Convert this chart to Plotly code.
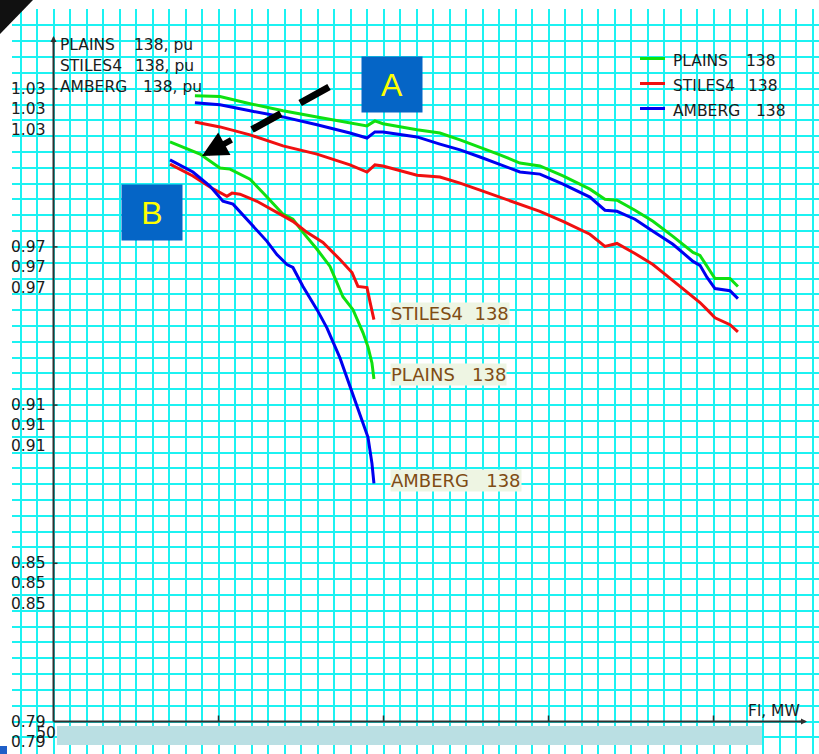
import plotly.graph_objects as go

# ---------------- data ----------------
series_names = ["PLAINS", "STILES4", "AMBERG"]
series_kv = ["138", "138", "138"]
series_colors = ["#10E010", "#F01010", "#0000F0"]

# Case A (upper set of PV curves): transfer Fl in MW, voltages in pu
upper_fl = [135.7, 150.9, 169.1, 189.1, 209.7, 229.7, 240.0, 244.8, 249.7, 270.3,
            284.2, 296.4, 308.5, 320.6, 332.7, 344.8, 358.8, 375.1, 384.2, 391.5,
            402.4, 413.3, 425.4, 437.6, 441.8, 446.1, 450.9, 460.0, 464.8]
upper_plains = [1.0273, 1.0270, 1.0243, 1.0216, 1.0193, 1.0171, 1.0159, 1.0178, 1.0167, 1.0144,
                1.0132, 1.0106, 1.0079, 1.0049, 1.0018, 1.0007, 0.9969, 0.9919, 0.9881, 0.9877,
                0.9839, 0.9797, 0.9740, 0.9679, 0.9668, 0.9626, 0.9580, 0.9580, 0.9550]
upper_stiles = [1.0174, 1.0155, 1.0125, 1.0083, 1.0052, 1.0011, 0.9984, 1.0011, 1.0007, 0.9972,
                0.9965, 0.9942, 0.9915, 0.9889, 0.9862, 0.9835, 0.9797, 0.9748, 0.9702, 0.9713,
                0.9675, 0.9633, 0.9572, 0.9511, 0.9489, 0.9462, 0.9431, 0.9405, 0.9378]
upper_amberg = [1.0247, 1.0239, 1.0216, 1.0193, 1.0163, 1.0132, 1.0113, 1.0136, 1.0136, 1.0117,
                1.0090, 1.0068, 1.0041, 1.0014, 0.9984, 0.9976, 0.9938, 0.9889, 0.9839, 0.9835,
                0.9805, 0.9759, 0.9710, 0.9645, 0.9630, 0.9584, 0.9542, 0.9534, 0.9504]

# Case B (lower set of PV curves)
lower_plains_fl = [120.6, 129.7, 138.8, 144.8, 150.9, 157.0, 169.1, 179.4, 189.1, 195.1,
                   201.2, 209.7, 217.6, 225.4, 231.5, 237.6, 240.6, 243.0, 244.2]
lower_plains_v = [1.0098, 1.0075, 1.0052, 1.0026, 0.9999, 0.9995, 0.9957, 0.9889, 0.9824, 0.9805,
                  0.9755, 0.9691, 0.9626, 0.9511, 0.9462, 0.9374, 0.9321, 0.9260, 0.9199]
lower_stiles_fl = [120.6, 134.5, 144.8, 155.1, 158.2, 163.0, 173.3, 185.4, 195.1, 203.6,
                   213.3, 223.6, 230.9, 234.5, 240.0, 241.8, 244.2]
lower_stiles_v = [1.0014, 0.9969, 0.9927, 0.9892, 0.9904, 0.9900, 0.9873, 0.9831, 0.9797, 0.9755,
                  0.9717, 0.9652, 0.9603, 0.9550, 0.9546, 0.9492, 0.9424]
lower_amberg_fl = [120.6, 134.5, 144.8, 152.7, 158.8, 169.1, 179.4, 185.4, 191.5, 195.1,
                   201.2, 209.7, 215.7, 223.6, 229.7, 237.6, 240.6, 243.0, 244.2]
lower_amberg_v = [1.0030, 0.9984, 0.9931, 0.9873, 0.9862, 0.9793, 0.9721, 0.9671, 0.9633, 0.9622,
                  0.9550, 0.9462, 0.9393, 0.9279, 0.9169, 0.9031, 0.8978, 0.8879, 0.8803]

y_tick_vals = [0.79, 0.85, 0.91, 0.97, 1.03]
y_tick_text = ["0.79", "0.85", "0.91", "0.97", "1.03"]
x_tick_vals = [50, 150, 250, 350, 450]
x_tick_text = ["50.0", "150.0", "250.0", "350.0", "450.0"]
x_title = "Fl, MW"

# ---------------- geometry helpers ----------------
W, H = 819, 754
L, T = 12, 9
PW, PH = W - L, H - T
X0PX, XS = 53.5, 1.65       # pixel of x=50, pixels per MW
Y0PX, YS = 721.5, 2636.7    # pixel of y=0.79, pixels per pu


def dx(px):
    return 50 + (px - X0PX) / XS


def dy(py):
    return 0.79 + (Y0PX - py) / YS


def pxp(px):
    return (px - L) / PW


def pyp(py):
    return (H - py) / PH


FONT = "DejaVu Sans"
AX_COL = "#303030"
TXT_COL = "#1c1c1c"

fig = go.Figure()

upper = [upper_plains, upper_stiles, upper_amberg]
lower = [(lower_plains_fl, lower_plains_v), (lower_stiles_fl, lower_stiles_v),
         (lower_amberg_fl, lower_amberg_v)]

for name, col, (fx, fv) in zip(series_names, series_colors, lower):
    fig.add_trace(go.Scatter(x=fx, y=fv, mode="lines", name=name + " (B)",
                             line=dict(color=col, width=3), showlegend=False,
                             hoverinfo="skip"))
for name, col, vals in zip(series_names, series_colors, upper):
    fig.add_trace(go.Scatter(x=upper_fl, y=vals, mode="lines", name=name + " (A)",
                             line=dict(color=col, width=3), showlegend=False,
                             hoverinfo="skip"))
# carrier trace for the secondary x axis that holds the (covered) tick labels
fig.add_trace(go.Scatter(x=x_tick_vals, y=[None] * len(x_tick_vals), xaxis="x2",
                         mode="lines", showlegend=False, hoverinfo="skip"))

shapes = []
annots = []

# axes lines
shapes.append(dict(type="line", xref="x", yref="y", x0=50, x1=50, y0=0.79, y1=dy(40),
                   line=dict(color=AX_COL, width=2)))
shapes.append(dict(type="line", xref="x", yref="y", x0=50, x1=dx(803), y0=0.79, y1=0.79,
                   line=dict(color=AX_COL, width=2)))
annots.append(dict(x=50, y=dy(36), xref="x", yref="y", ax=0, ay=9, text="",
                   showarrow=True, arrowhead=2, arrowsize=0.8, arrowwidth=1.5,
                   arrowcolor=AX_COL))
annots.append(dict(x=dx(807), y=0.79, xref="x", yref="y", ax=-9, ay=0, text="",
                   showarrow=True, arrowhead=2, arrowsize=0.8, arrowwidth=1.5,
                   arrowcolor=AX_COL))

# tick marks
for v in y_tick_vals[1:]:
    shapes.append(dict(type="line", xref="x", yref="y", x0=50, x1=dx(57.5), y0=v, y1=v,
                       line=dict(color=AX_COL, width=1.5)))
for xv in x_tick_vals[1:]:
    shapes.append(dict(type="line", xref="x", yref="y", x0=xv, x1=xv, y0=0.79, y1=dy(715.5),
                       line=dict(color=AX_COL, width=1.5)))

# y tick labels (three stacked per tick, one per plotted quantity)
for v, t in zip(y_tick_vals, y_tick_text):
    for sh in (0, -20, -41):
        annots.append(dict(x=dx(48), y=v, xref="x", yref="y", text=t, showarrow=False,
                           xanchor="right", yanchor="middle", yshift=sh,
                           font=dict(family=FONT, size=15.5, color=TXT_COL)))

annots.append(dict(x=dx(774), y=dy(711), xref="x", yref="y", text=x_title, showarrow=False,
                   xanchor="center", yanchor="middle",
                   font=dict(family=FONT, size=15.5, color=TXT_COL)))

# top-left axis caption
cap_y = [45, 66, 87]
cap_x2 = [133, 134, 142]
for name, kv, py, px2 in zip(series_names, series_kv, cap_y, cap_x2):
    annots.append(dict(x=dx(58), y=dy(py), xref="x", yref="y", text=name, showarrow=False,
                       xanchor="left", yanchor="middle",
                       font=dict(family=FONT, size=15.5, color=TXT_COL)))
    annots.append(dict(x=dx(px2 - 1), y=dy(py), xref="x", yref="y", text=kv + ", pu",
                       showarrow=False, xanchor="left", yanchor="middle",
                       font=dict(family=FONT, size=15.5, color=TXT_COL)))

# right legend
leg_y = [60, 85, 110]
leg_x2 = [745, 747, 755]
for name, kv, col, py, px2 in zip(series_names, series_kv, series_colors, leg_y, leg_x2):
    shapes.append(dict(type="line", xref="x", yref="y", x0=dx(640), x1=dx(665),
                       y0=dy(py - 1.5), y1=dy(py - 1.5), line=dict(color=col, width=3)))
    annots.append(dict(x=dx(671), y=dy(py + 1), xref="x", yref="y", text=name,
                       showarrow=False, xanchor="left", yanchor="middle",
                       font=dict(family=FONT, size=15.5, color=TXT_COL)))
    annots.append(dict(x=dx(px2 - 1), y=dy(py + 1), xref="x", yref="y", text=kv,
                       showarrow=False, xanchor="left", yanchor="middle",
                       font=dict(family=FONT, size=15.5, color=TXT_COL)))

# end-of-curve labels for case B
end_names = ["STILES4", "PLAINS", "AMBERG"]
end_label_y = [313, 374, 480]
end_sep = ["\u00a0\u00a0", "\u00a0\u00a0\u00a0", "\u00a0\u00a0\u00a0"]
for name, kv, py, sep in zip(end_names, series_kv, end_label_y, end_sep):
    annots.append(dict(x=dx(390), y=dy(py), xref="x", yref="y", text=name + sep + kv,
                       showarrow=False, xanchor="left", yanchor="middle",
                       bgcolor="#EEF5E3", borderpad=0,
                       font=dict(family=FONT, size=18, color="#7F4C14")))

# callout boxes A and B
for txt, cx, cy in (("A", 392, 84.5), ("B", 151.5, 212.5)):
    annots.append(dict(x=dx(cx), y=dy(cy), xref="x", yref="y", text=txt, showarrow=False,
                       xanchor="center", yanchor="middle", width=56, height=51,
                       bgcolor="#0565C6", borderpad=2,
                       font=dict(family="Liberation Sans", size=32, color="#FFFF00")))

# dashed black pointer with arrow head
shapes.append(dict(type="line", xref="x", yref="y", x0=dx(329), y0=dy(87), x1=dx(233),
                   y1=dy(140), line=dict(color="black", width=7, dash="33px,22px")))
annots.append(dict(x=dx(202), y=dy(156), xref="x", yref="y", ax=31, ay=-17, text="",
                   showarrow=True, arrowhead=2, arrowsize=0.85, arrowwidth=6,
                   arrowcolor="black"))

# grey bar hiding x tick labels
shapes.append(dict(type="rect", xref="x", yref="y", x0=dx(57), x1=dx(762), y0=dy(745),
                   y1=dy(726), fillcolor="#BADFE3", line=dict(width=0), layer="above"))

# screenshot artefacts: dark corner and small blue square
shapes.append(dict(type="path", xref="paper", yref="paper",
                   path=f"M{pxp(0)},{pyp(0)} L{pxp(33)},{pyp(0)} L{pxp(0)},{pyp(34)} Z",
                   fillcolor="#111111", line=dict(width=0), layer="above"))
shapes.append(dict(type="rect", xref="paper", yref="paper", x0=pxp(0), x1=pxp(7),
                   y0=pyp(754), y1=pyp(746), fillcolor="#1F5FC8", line=dict(width=0),
                   layer="above"))

fig.update_layout(
    width=W, height=H,
    margin=dict(l=L, r=0, t=T, b=0, pad=0),
    paper_bgcolor="white", plot_bgcolor="white",
    showlegend=False,
    xaxis=dict(range=[dx(L), dx(W)], tick0=50, dtick=10, showgrid=True,
               gridcolor="#1CF2F2", gridwidth=2, showticklabels=False, ticks="",
               zeroline=False, showline=False, fixedrange=True),
    xaxis2=dict(range=[dx(L), dx(W)], overlaying="x", anchor="free",
                position=pyp(Y0PX), side="bottom", tickmode="array",
                tickvals=x_tick_vals, ticktext=x_tick_text, showgrid=False,
                ticks="", showline=False, zeroline=False, fixedrange=True,
                tickfont=dict(family=FONT, size=15.5, color=TXT_COL)),
    yaxis=dict(range=[dy(H), dy(T)], tick0=0.79, dtick=0.006, showgrid=True,
               gridcolor="#1CF2F2", gridwidth=2, showticklabels=False, ticks="",
               zeroline=False, showline=False, fixedrange=True),
    shapes=shapes,
    annotations=annots,
)

fig.write_html("out.html", config={"displayModeBar": False},
               post_script="document.body.style.margin='0px';")
